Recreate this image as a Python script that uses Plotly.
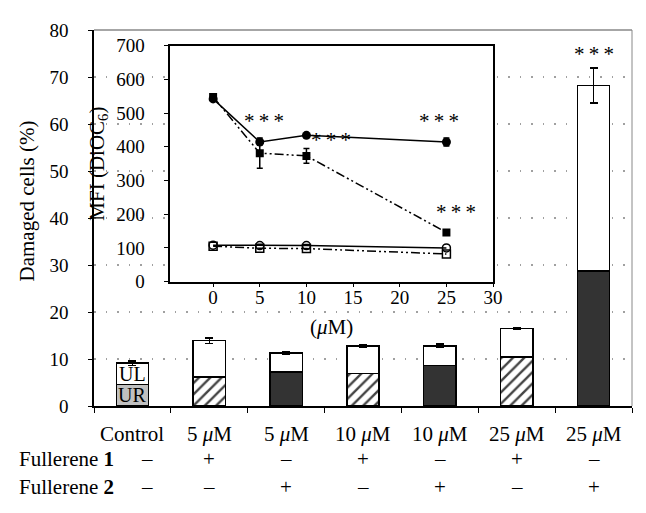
import plotly.graph_objects as go

# main bar chart: damaged cells (%)
categories = ["Control", "5 <i>μ</i>M", "5 <i>μ</i>M ", "10 <i>μ</i>M", "10 <i>μ</i>M ", "25 <i>μ</i>M", "25 <i>μ</i>M "]
ur_values = [4.6, 6.2, 7.2, 6.9, 8.6, 10.4, 28.7]
total_values = [9.1, 13.9, 11.3, 12.8, 12.8, 16.5, 68.2]
total_err = [0.5, 0.6, 0.25, 0.25, 0.35, 0.25, 3.7]
fullerene1 = ["–", "+", "–", "+", "–", "+", "–"]
fullerene2 = ["–", "–", "+", "–", "+", "–", "+"]
ur_colors = ["#c0c0c0", "white", "#333333", "white", "#333333", "white", "#333333"]
ur_patterns = ["", "/", "", "/", "", "/", ""]

# inset: MFI (DiOC6)
conc = [0, 5, 10, 25]
mfi_f2_live = [542, 414, 434, 414]
mfi_f2_live_err = [6, 5, 5, 12]
mfi_f1_live = [548, 381, 373, 146]
mfi_f1_live_err = [8, 45, 22, 4]
mfi_f2_dead = [108, 107, 107, 100]
mfi_f1_dead = [105, 99, 98, 82]

SERIF = '"Liberation Serif", "Times New Roman", "DejaVu Serif", serif'
DASHDOT = "9px,3px,2px,3px,2px,3px"
TXT = 21
STARS = "*\u2009*\u2009*"

ul_values = [t - u for t, u in zip(total_values, ur_values)]

fig = go.Figure()

fig.add_trace(go.Bar(
    x=categories, y=ur_values, width=0.42,
    marker=dict(color=ur_colors, line=dict(color="black", width=1.5),
                pattern=dict(shape=ur_patterns, fgcolor="black", fgopacity=1,
                             size=8, solidity=0.3)),
    showlegend=False, hoverinfo="skip",
))
fig.add_trace(go.Bar(
    x=categories, y=ul_values, width=0.42,
    marker=dict(color="white", line=dict(color="black", width=1.5)),
    error_y=dict(type="data", array=total_err, color="black", thickness=1.5, width=4),
    showlegend=False, hoverinfo="skip",
))

# inset lines
fig.add_trace(go.Scatter(
    x=conc, y=mfi_f2_live, xaxis="x2", yaxis="y2", mode="lines+markers",
    line=dict(color="black", width=1.5),
    marker=dict(symbol="circle", size=9, color="black"),
    error_y=dict(type="data", array=mfi_f2_live_err, color="black", thickness=1.5, width=3),
    showlegend=False,
))
fig.add_trace(go.Scatter(
    x=conc, y=mfi_f1_live, xaxis="x2", yaxis="y2", mode="lines+markers",
    line=dict(color="black", width=1.5, dash=DASHDOT),
    marker=dict(symbol="square", size=8, color="black"),
    error_y=dict(type="data", array=mfi_f1_live_err, color="black", thickness=1.5, width=3),
    showlegend=False,
))
fig.add_trace(go.Scatter(
    x=conc, y=mfi_f2_dead, xaxis="x2", yaxis="y2", mode="lines+markers",
    line=dict(color="black", width=1.5),
    marker=dict(symbol="circle-open", size=8, color="black", line=dict(width=1.5)),
    showlegend=False,
))
fig.add_trace(go.Scatter(
    x=conc, y=mfi_f1_dead, xaxis="x2", yaxis="y2", mode="lines+markers",
    line=dict(color="black", width=1.5, dash=DASHDOT),
    marker=dict(symbol="square-open", size=8, color="black", line=dict(width=1.5)),
    showlegend=False,
))

annotations = []
# category labels and +/- table under the axis
for i, cat in enumerate(categories):
    shift = 15 if i == 0 else 0
    annotations.append(dict(x=cat, y=-0.112, xref="x", yref="paper", text=cat.strip(),
                            showarrow=False, font=dict(size=TXT)))
    annotations.append(dict(x=cat, y=-0.179, xref="x", yref="paper", text=fullerene1[i],
                            showarrow=False, xshift=shift, font=dict(size=TXT)))
    annotations.append(dict(x=cat, y=-0.253, xref="x", yref="paper", text=fullerene2[i],
                            showarrow=False, xshift=shift, font=dict(size=TXT)))
annotations.append(dict(x=-0.143, y=-0.179, xref="paper", yref="paper", xanchor="left",
                        text="Fullerene <b>1</b>", showarrow=False, font=dict(size=TXT)))
annotations.append(dict(x=-0.143, y=-0.253, xref="paper", yref="paper", xanchor="left",
                        text="Fullerene <b>2</b>", showarrow=False, font=dict(size=TXT)))
# y-axis title, sits a little above the axis middle in the reference
annotations.append(dict(x=-0.125, y=0.546, xref="paper", yref="paper", text="Damaged cells (%)",
                        xanchor="center", yanchor="middle",
                        textangle=-90, showarrow=False, font=dict(size=TXT)))
# UL / UR labels in control bar
annotations.append(dict(x=categories[0], y=ur_values[0] + ul_values[0] / 2, text="UL",
                        showarrow=False, font=dict(size=20)))
annotations.append(dict(x=categories[0], y=ur_values[0] / 2, text="UR",
                        showarrow=False, font=dict(size=20)))
# significance stars
annotations.append(dict(x=categories[6], y=74.8, text=STARS, xanchor="center",
                        showarrow=False, font=dict(size=21)))
for sx, sy in [(5.5, 475), (12.6, 420), (24.2, 475), (26.0, 208)]:
    annotations.append(dict(x=sx, y=sy, xref="x2", yref="y2", text=STARS, xanchor="center",
                            showarrow=False, font=dict(size=21)))

fig.update_layout(
    width=646, height=513,
    margin=dict(l=86, r=14, t=21, b=115),
    paper_bgcolor="white", plot_bgcolor="white",
    font=dict(family=SERIF, size=19, color="black"),
    barmode="stack", bargap=0.58,
    xaxis=dict(
        type="category", showticklabels=False, showline=True, linecolor="black", linewidth=1.5,
        ticks="outside", tickson="boundaries", ticklen=5, tickcolor="black", showgrid=False,
    ),
    yaxis=dict(
        range=[0, 80], dtick=10, showline=True, linecolor="black", linewidth=1.5,
        ticks="outside", ticklen=4, tickcolor="black", ticklabelstandoff=16,
        showgrid=True, gridcolor="#a0a0a0", griddash="1.5px,10px", gridwidth=1.5, zeroline=False,
    ),
    xaxis2=dict(
        domain=[0.1416, 0.7418], anchor="y2", range=[-4.6, 30], dtick=5,
        showline=True, linecolor="black", linewidth=1.5, mirror=True,
        ticks="outside", ticklen=4, tickcolor="black", ticklabelstandoff=-6,
        showgrid=False, zeroline=False,
        title=dict(text="(<i>μ</i>M)", font=dict(size=TXT), standoff=12),
    ),
    yaxis2=dict(
        domain=[0.3308, 0.9584], anchor="x2", range=[0, 700], dtick=100,
        showline=True, linecolor="black", linewidth=1.5, mirror=True,
        ticks="outside", ticklen=4, tickcolor="black", ticklabelstandoff=16,
        showgrid=False, zeroline=False,
        title=dict(text="MFI (DiOC<sub>6</sub>)", font=dict(size=TXT), standoff=6),
    ),
    shapes=[
        dict(type="line", xref="paper", yref="paper", x0=0, x1=1, y0=1, y1=1,
             line=dict(color="#888888", width=1.5)),
        dict(type="line", xref="paper", yref="paper", x0=1, x1=1, y0=0, y1=1,
             line=dict(color="#888888", width=1)),
    ],
    annotations=annotations,
)

fig.write_html("out.html")
